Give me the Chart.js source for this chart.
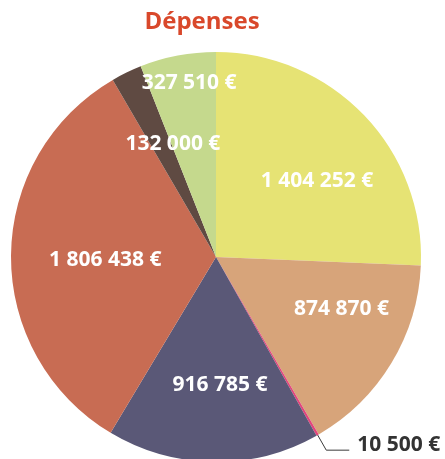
<!DOCTYPE html>
<html>
<head>
<meta charset="utf-8">
<script src="https://cdn.jsdelivr.net/npm/chart.js@4"></script>
<style>
  html, body { margin: 0; padding: 0; background: #fff; overflow: hidden; }
  #wrap { width: 445px; height: 470px; }
</style>
</head>
<body>
<div id="wrap"><canvas id="myChart" width="445" height="470"></canvas></div>
<script>
// Data (clockwise from 12 o'clock)
const categories = ["A", "B", "C", "D", "E", "F", "G"];
const depenses = [1404252, 874870, 10500, 916785, 1806438, 132000, 327510];
const sliceColors = ["#e6e374", "#d7a47a", "#e2457c", "#5a5877", "#c86c53", "#5f4a42", "#c5d98d"];

// label placement: angle shift (deg) and fraction of the radius, per slice
const labelShift = [7, -8.6, 0, -2.6, -1.7, 5, 2];
const labelRadius = [0.615, 0.663, 0, 0.624, 0.54, 0.59, 0.86];
const outsideLabels = [2]; // slices labelled outside with a leader line

// French style number: "1 404 252 €"
function formatEuro(v) {
  return String(v).replace(/\B(?=(\d{3})+(?!\d))/g, " ") + " €";
}

const ctx = document.getElementById("myChart");

new Chart(ctx, {
  type: "pie",
  data: {
    labels: categories,
    datasets: [
      {
        data: depenses,
        backgroundColor: sliceColors,
        borderWidth: 0,
        hoverOffset: 0,
      },
    ],
  },
  options: {
    responsive: false,
    animation: false,
    layout: {
      padding: { top: 52, left: 5, right: 18, bottom: 8 },
    },
    plugins: {
      legend: { display: false },
      tooltip: { enabled: false },
    },
  },
  plugins: [
    {
      id: "custom_title",
      afterDraw(chart) {
        const { ctx } = chart;
        ctx.save();
        ctx.font = "bold 24px 'Open Sans'";
        ctx.fillStyle = "#d9482b";
        ctx.textAlign = "center";
        ctx.textBaseline = "middle";
        ctx.fillText("Dépenses", 202, 22);
        ctx.restore();
      },
    },
    {
      id: "custom_labels",
      afterDraw(chart) {
        const { ctx } = chart;
        const meta = chart.getDatasetMeta(0);
        ctx.save();
        ctx.font = "bold 21px 'Open Sans'";
        ctx.textBaseline = "middle";

        meta.data.forEach((arc, i) => {
          const { x, y, startAngle, endAngle, outerRadius } = arc.getProps(
            ["x", "y", "startAngle", "endAngle", "outerRadius"],
            true
          );
          const mid = (startAngle + endAngle) / 2;
          const text = formatEuro(depenses[i]);

          if (outsideLabels.includes(i)) {
            // leader line from the edge of the slice
            const x0 = x + Math.cos(mid) * outerRadius;
            const y0 = y + Math.sin(mid) * outerRadius;
            const x1 = x + Math.cos(mid) * outerRadius * 1.085;
            const y1 = y + Math.sin(mid) * outerRadius * 1.085;
            const x2 = x1 + 23;
            ctx.strokeStyle = "#3a3a3a";
            ctx.lineWidth = 1;
            ctx.beginPath();
            ctx.moveTo(x0, y0);
            ctx.lineTo(x1, y1);
            ctx.lineTo(x2, y1);
            ctx.stroke();
            ctx.fillStyle = "#333333";
            ctx.textAlign = "left";
            ctx.fillText(text, x2 + 8, y1 - 5);
            return;
          }

          const a = mid + (labelShift[i] * Math.PI) / 180;
          const r = outerRadius * labelRadius[i];
          ctx.fillStyle = "#ffffff";
          ctx.textAlign = "center";
          ctx.fillText(text, x + Math.cos(a) * r, y + Math.sin(a) * r);
        });
        ctx.restore();
      },
    },
  ],
});
</script>
</body>
</html>
